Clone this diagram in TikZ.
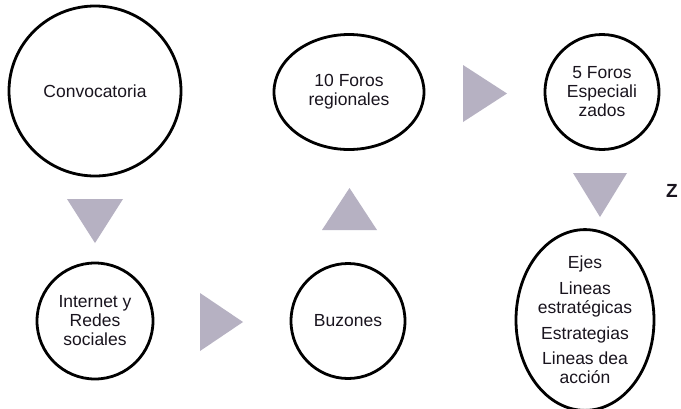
\documentclass[tikz,border=0pt]{standalone}
\usepackage{fontspec}
\setmainfont{Liberation Sans}
\usetikzlibrary{shapes.geometric,calc}
\definecolor{arrowgray}{RGB}{182,177,194}
\definecolor{textdark}{RGB}{25,20,30}
\tikzset{
  stage/.style={draw=black, line width=2.8pt, ellipse, inner sep=0pt, align=center,
    text=textdark, font=\fontsize{17.5}{19}\selectfont},
  arrowtri/.style={fill=arrowgray, draw=none},
}
\begin{document}
\begin{tikzpicture}[x=1pt,y=-1pt]
\useasboundingbox[fill=white] (0,0) rectangle (681,408);
% stages
\node[stage, minimum width=172pt, minimum height=170pt] (conv) at (95,91) {Convocatoria};
\node[stage, minimum width=150pt, minimum height=115pt] (f10) at (349,92) {10 Foros\\regionales};
\node[stage, minimum width=114pt, minimum height=115pt] (f5) at (602,92) {5 Foros\\Especiali\\zados};
\node[stage, minimum width=116pt, minimum height=116pt] (inet) at (95,321) {Internet y\\Redes\\sociales};
\node[stage, minimum width=114pt, minimum height=115pt] (buz) at (348,321) {Buzones};
\node[stage, minimum width=138pt, minimum height=172pt] (res) at (585,320)
  {Ejes\\[7pt]Lineas\\estratégicas\\[7pt]Estrategias\\[6pt]Lineas dea\\acción};
\node[text=textdark, inner sep=0pt, font=\fontsize{19}{21}\selectfont\bfseries] (z) at (672,191) {Z};
% triangle markers between the stages
\coordinate (t1) at (95,221);
\coordinate (t2) at (221.5,322);
\coordinate (t3) at (349.5,209);
\coordinate (t4) at (485,93.5);
\coordinate (t5) at (600,195);
\fill[arrowtri] ($(t1)+(-28,-22)$) -- ($(t1)+(28,-22)$) -- ($(t1)+(0,22)$) -- cycle;
\fill[arrowtri] ($(t2)+(-21.5,-29)$) -- ($(t2)+(21.5,0)$) -- ($(t2)+(-21.5,29)$) -- cycle;
\fill[arrowtri] ($(t3)+(-27.5,21)$) -- ($(t3)+(27.5,21)$) -- ($(t3)+(0,-21)$) -- cycle;
\fill[arrowtri] ($(t4)+(-22,-28.5)$) -- ($(t4)+(22,0)$) -- ($(t4)+(-22,28.5)$) -- cycle;
\fill[arrowtri] ($(t5)+(-27,-22)$) -- ($(t5)+(27,-22)$) -- ($(t5)+(0,22)$) -- cycle;
\end{tikzpicture}
\end{document}
